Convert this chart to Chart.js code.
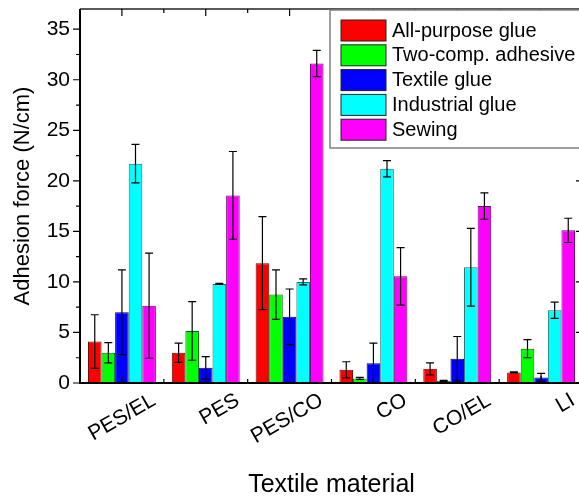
<!DOCTYPE html>
<html>
<head>
<meta charset="utf-8">
<script src="https://cdn.jsdelivr.net/npm/chart.js@4.4.0/dist/chart.umd.min.js"></script>
<style>
  html, body { margin: 0; padding: 0; background: #fff; overflow: hidden; }
  #wrap { width: 579px; height: 497px; overflow: hidden; }
</style>
</head>
<body>
<div id="wrap"><canvas id="adhesionChart" width="592" height="500"></canvas></div>
<script>
// Data
const categories = ['PES/EL', 'PES', 'PES/CO', 'CO', 'CO/EL', 'LI'];
const seriesNames = ['All-purpose glue', 'Two-comp. adhesive', 'Textile glue', 'Industrial glue', 'Sewing'];

const allPurpose    = [4.1, 3.0, 11.85, 1.3, 1.4, 1.05];
const allPurposeErr = [2.65, 0.95, 4.6, 0.8, 0.6, 0.05];
const twoComp       = [3.0, 5.15, 8.75, 0.45, 0.22, 3.4];
const twoCompErr    = [1.0, 2.9, 2.45, 0.1, 0.05, 0.9];
const textile       = [7.0, 1.5, 6.55, 1.95, 2.4, 0.55];
const textileErr    = [4.2, 1.1, 2.75, 2.0, 2.2, 0.4];
const industrial    = [21.7, 9.8, 10.0, 21.2, 11.45, 7.2];
const industrialErr = [1.9, 0.05, 0.3, 0.8, 3.85, 0.8];
const sewing        = [7.65, 18.55, 31.6, 10.55, 17.5, 15.1];
const sewingErr     = [5.2, 4.35, 1.3, 2.85, 1.3, 1.2];

const yTickValues = [0, 5, 10, 15, 20, 25, 30, 35];
const yMin = 0, yMax = 37;

const fillColors   = ['#ff0000', '#00ff00', '#0000ff', '#00ffff', '#ff00ff'];
const borderColors = ['#6b0000', '#006b00', '#00006b', '#1f6b6b', '#6b006b'];

const FONT = "'Liberation Sans', Arial, sans-serif";

const values = [allPurpose, twoComp, textile, industrial, sewing];
const errors = [allPurposeErr, twoCompErr, textileErr, industrialErr, sewingErr];

// error bars on top of the bars
const errorBars = {
    id: 'errorBars',
    afterDatasetsDraw(chart) {
        const ctx = chart.ctx;
        const y = chart.scales.y;
        ctx.save();
        ctx.strokeStyle = '#000';
        ctx.lineWidth = 1.2;
        chart.data.datasets.forEach((ds, i) => {
            const meta = chart.getDatasetMeta(i);
            meta.data.forEach((bar, j) => {
                const v = ds.data[j], e = ds.errors[j];
                const yTop = y.getPixelForValue(v + e);
                const yBot = y.getPixelForValue(Math.max(v - e, yMin));
                ctx.beginPath();
                ctx.moveTo(bar.x, yTop); ctx.lineTo(bar.x, yBot);
                ctx.moveTo(bar.x - 4, yTop); ctx.lineTo(bar.x + 4, yTop);
                if (v - e > yMin) { ctx.moveTo(bar.x - 4, yBot); ctx.lineTo(bar.x + 4, yBot); }
                ctx.stroke();
            });
        });
        ctx.restore();
    }
};

// frame, inward/outward ticks and the boxed legend
const frameAndLegend = {
    id: 'frameAndLegend',
    afterDraw(chart) {
        const ctx = chart.ctx;
        const a = chart.chartArea;
        const x = chart.scales.x, y = chart.scales.y;
        ctx.save();
        ctx.strokeStyle = '#000';
        ctx.lineWidth = 2;
        ctx.beginPath();
        ctx.moveTo(a.left, a.top); ctx.lineTo(a.left, a.bottom); ctx.lineTo(a.right, a.bottom); ctx.lineTo(a.right, a.top);
        ctx.stroke();
        ctx.lineWidth = 1.5;
        ctx.strokeStyle = '#222';
        ctx.beginPath();
        ctx.moveTo(a.left, a.top); ctx.lineTo(a.right, a.top);
        ctx.stroke();

        ctx.lineWidth = 1.2;
        ctx.strokeStyle = '#000';
        ctx.beginPath();
        for (let v = yMin; v <= yMax; v += 2.5) {
            const py = y.getPixelForValue(v);
            const len = (v % 5 === 0) ? 7 : 4;
            ctx.moveTo(a.left - len, py); ctx.lineTo(a.left, py);
            ctx.moveTo(a.right - len, py); ctx.lineTo(a.right, py);
        }
        const w = (a.right - a.left) / categories.length;
        categories.forEach((c, i) => {
            const px = x.getPixelForValue(i);
            ctx.moveTo(px, a.top); ctx.lineTo(px, a.top + 7);
            ctx.moveTo(px, a.bottom); ctx.lineTo(px, a.bottom - 7);
            if (i > 0) {
                const bx = px - w / 2;
                ctx.moveTo(bx, a.top); ctx.lineTo(bx, a.top + 4);
                ctx.moveTo(bx, a.bottom); ctx.lineTo(bx, a.bottom - 4);
            }
        });
        ctx.stroke();

        // legend box
        const lx = 330, ly = a.top + 1, lh = 138;
        ctx.fillStyle = '#fff';
        ctx.fillRect(lx, ly, 300, lh);
        ctx.strokeStyle = '#808080';
        ctx.lineWidth = 1.5;
        ctx.strokeRect(lx, ly, 300, lh);
        ctx.font = '20px ' + FONT;
        ctx.textBaseline = 'middle';
        chart.data.datasets.forEach((ds, i) => {
            const ry = a.top + 11 + i * 24.8;
            ctx.fillStyle = ds.backgroundColor;
            ctx.fillRect(341, ry, 45, 21);
            ctx.strokeStyle = '#222';
            ctx.lineWidth = 1;
            ctx.strokeRect(341, ry, 45, 21);
            ctx.fillStyle = '#000';
            ctx.fillText(ds.label, 392, ry + 11);
        });
        ctx.restore();
    }
};

const datasets = seriesNames.map((name, i) => ({
    label: name,
    data: values[i],
    errors: errors[i],
    backgroundColor: fillColors[i],
    borderColor: borderColors[i],
    borderWidth: 1,
    borderSkipped: false,
    categoryPercentage: 0.81,
    barPercentage: 1.0
}));

new Chart(document.getElementById('adhesionChart'), {
    type: 'bar',
    data: { labels: categories, datasets: datasets },
    options: {
        responsive: false,
        animation: false,
        layout: { padding: { top: 9, right: 9, left: 0, bottom: 0 } },
        plugins: {
            legend: { display: false },
            tooltip: { enabled: false }
        },
        scales: {
            x: {
                grid: { display: false, drawTicks: false },
                border: { display: false },
                ticks: {
                    color: '#000',
                    font: { family: FONT, size: 21 },
                    minRotation: 30,
                    maxRotation: 30,
                    padding: 5,
                    labelOffset: 32
                },
                title: {
                    display: true,
                    text: 'Textile material',
                    color: '#000',
                    font: { family: FONT, size: 25 },
                    padding: { top: 0, bottom: 0 }
                },
                afterFit(scale) {
                    scale.height = 117;
                    scale.paddingLeft = 0;
                    scale.paddingRight = 0;
                }
            },
            y: {
                min: yMin,
                max: yMax,
                grid: { display: false, drawTicks: false },
                border: { display: false },
                afterBuildTicks(scale) {
                    scale.ticks = yTickValues.map(v => ({ value: v }));
                },
                ticks: {
                    color: '#000',
                    font: { family: FONT, size: 21 },
                    padding: 10
                },
                title: {
                    display: true,
                    text: 'Adhesion force (N/cm)',
                    color: '#000',
                    font: { family: FONT, size: 22 },
                    padding: { top: 10, bottom: 0 }
                },
                afterFit(scale) {
                    scale.width = 80;
                    scale.paddingTop = 0;
                    scale.paddingBottom = 0;
                }
            }
        }
    },
    plugins: [errorBars, frameAndLegend]
});
</script>
</body>
</html>
